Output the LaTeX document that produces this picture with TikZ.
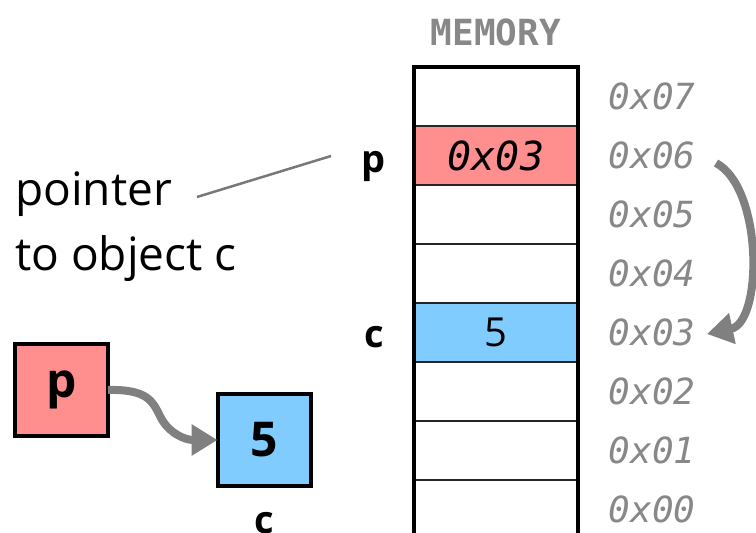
\documentclass[tikz,border=0pt]{standalone}
\usepackage{fontspec}
\setmainfont{Open Sans}
\newfontfamily\memmono{DejaVu Sans Mono}
\usetikzlibrary{arrows.meta}
\definecolor{pinkc}{RGB}{255,143,143}
\definecolor{bluec}{RGB}{128,204,255}
\definecolor{addrgray}{RGB}{136,136,136}
\definecolor{arrowgray}{RGB}{128,128,128}
\definecolor{leadgray}{RGB}{120,120,120}
\begin{document}
\begin{tikzpicture}[x=1pt,y=-1pt,
  cell/.style={draw=black!85, line width=2pt, minimum width=164pt, minimum height=59pt,
    inner sep=0pt, outer sep=0pt, anchor=north west},
  addr/.style={font=\memmono\itshape\fontsize{36}{40}\selectfont, text=addrgray},
  lbl/.style={font=\bfseries\fontsize{38}{44}\selectfont, anchor=base},
  box/.style={draw=black, line width=4pt, minimum width=93pt, minimum height=92pt,
    inner sep=0pt, outer sep=0pt, font=\bfseries\fontsize{48}{52}\selectfont},
  conn/.style={draw=arrowgray, line width=8pt, -{Triangle[length=26pt,width=30pt]}},
  leader/.style={draw=leadgray, line width=2.5pt},
  plain/.style={font=\fontsize{46}{52}\selectfont, anchor=base west, inner sep=0pt}
]
\useasboundingbox (0,0) rectangle (756,533);
% memory cells
\node[cell] (m7) at (414,67) {};
\node[cell, fill=pinkc, font=\memmono\itshape\fontsize{40}{44}\selectfont] (m6) at (414,126) {0x03};
\node[cell] (m5) at (414,185) {};
\node[cell] (m4) at (414,244) {};
\node[cell, fill=bluec, font=\fontsize{40}{44}\selectfont] (m3) at (414,303) {5};
\node[cell] (m2) at (414,362) {};
\node[cell] (m1) at (414,421) {};
\node[cell] (m0) at (414,480) {};
\draw[line width=4pt] (m0.south west) -- (m7.north west) -- (m7.north east) -- (m0.south east);
% header
\node[font=\memmono\bfseries\fontsize{36}{40}\selectfont, text=addrgray] (mem) at ([yshift=35pt]m7.north) {MEMORY};
% addresses
\node[addr] (a7) at ([xshift=74pt]m7.east) {0x07};
\node[addr] (a6) at ([xshift=74pt]m6.east) {0x06};
\node[addr] (a5) at ([xshift=74pt]m5.east) {0x05};
\node[addr] (a4) at ([xshift=74pt]m4.east) {0x04};
\node[addr] (a3) at ([xshift=74pt]m3.east) {0x03};
\node[addr] (a2) at ([xshift=74pt]m2.east) {0x02};
\node[addr] (a1) at ([xshift=74pt]m1.east) {0x01};
\node[addr] (a0) at ([xshift=74pt]m0.east) {0x00};
% labels p and c
\node[lbl] (pl) at (374,172) {p};
\node[lbl] (cl) at (374,347) {c};
% pointer text
\node[plain] (t1) at (15,205) {pointer};
\node[plain] (t2) at (15,270) {to object c};
\coordinate (ls) at (197,197);
\coordinate (le) at (331,156);
\draw[leader] (ls) -- (le);
% right arrow 0x06 -> 0x03
\coordinate (r1) at (716,163);
\coordinate (r2) at (707,334);
\draw[conn] (r1) .. controls (763,188) and (763,322) .. (r2);
% small boxes
\node[box, fill=pinkc] (pbox) at (61.5,390) {p};
\node[box, fill=bluec] (cbox) at (264,440) {5};
\node[lbl] (cname) at (264,533) {c};
\draw[conn] (pbox.east) .. controls (148,389) and (153,402) .. (160,416)
  .. controls (168,433) and (185,440) .. (cbox.west);
\end{tikzpicture}
\end{document}
